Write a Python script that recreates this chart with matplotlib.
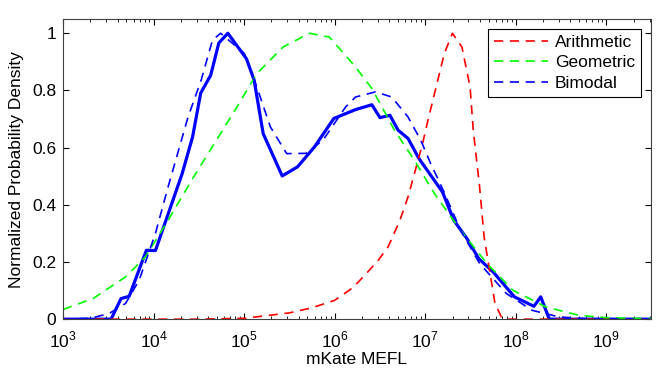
import numpy as np
import matplotlib
matplotlib.use("Agg")
import matplotlib.pyplot as plt
from matplotlib.ticker import FixedLocator, NullFormatter

plt.rcParams['font.family'] = ['Liberation Sans', 'DejaVu Sans']
plt.rcParams['mathtext.fontset'] = 'custom'
plt.rcParams['mathtext.rm'] = 'Liberation Sans'

# --- data (x as log10 of mKate MEFL) ---
meas_logx = [3.0, 3.53, 3.64, 3.73, 3.92, 4.02, 4.315, 4.43, 4.52, 4.63, 4.72, 4.82,
             5.025, 5.11, 5.21, 5.42, 5.59, 5.775, 5.99, 6.23, 6.41, 6.5, 6.61, 6.70,
             6.81, 6.93, 7.19, 7.315, 7.46, 7.59, 7.75, 7.985, 8.20, 8.275, 8.37, 9.5]
meas_y = [0.0, 0.0, 0.072, 0.08, 0.241, 0.24, 0.509, 0.637, 0.791, 0.853, 0.966, 1.0,
          0.911, 0.836, 0.649, 0.501, 0.533, 0.602, 0.702, 0.733, 0.75, 0.705, 0.713, 0.661,
          0.632, 0.562, 0.445, 0.346, 0.282, 0.212, 0.165, 0.078, 0.045, 0.078, 0.0, 0.0]

arith_logx = [3.0, 4.0, 4.5, 5.0, 5.5, 5.75, 6.0, 6.2, 6.35, 6.48, 6.59, 6.72, 6.81, 6.88,
              6.97, 7.03, 7.12, 7.21, 7.30, 7.405, 7.495, 7.53, 7.60, 7.65, 7.71, 7.77,
              7.84, 7.90, 9.5]
arith_y = [0.0, 0.0, 0.0, 0.003, 0.022, 0.04, 0.066, 0.11, 0.16, 0.206, 0.253, 0.346, 0.428,
           0.509, 0.614, 0.696, 0.812, 0.929, 1.0, 0.952, 0.812, 0.661, 0.463, 0.288, 0.171,
           0.055, 0.008, 0.0, 0.0]

geo_logx = [3.0, 3.33, 3.69, 3.91, 4.16, 4.42, 4.67, 4.92, 5.14, 5.43, 5.72, 5.94, 6.23,
            6.41, 6.66, 6.88, 7.10, 7.39, 7.68, 7.97, 8.33, 8.69, 9.0, 9.5]
geo_y = [0.034, 0.072, 0.148, 0.218, 0.346, 0.486, 0.614, 0.742, 0.859, 0.952, 1.0, 0.987,
         0.882, 0.807, 0.661, 0.556, 0.44, 0.311, 0.195, 0.101, 0.043, 0.014, 0.005, 0.002]

bimod_logx = [3.0, 3.3, 3.51, 3.69, 3.84, 4.02, 4.16, 4.38, 4.525, 4.65, 4.74, 5.0, 5.14,
              5.29, 5.47, 5.685, 5.87, 6.12, 6.23, 6.45, 6.63, 6.81, 6.95, 7.06, 7.2,
              7.39, 7.6, 7.895, 8.18, 8.475, 8.8, 9.5]
bimod_y = [0.0, 0.003, 0.02, 0.055, 0.136, 0.30, 0.463, 0.707, 0.836, 0.976, 1.0, 0.93, 0.812,
           0.672, 0.579, 0.58, 0.626, 0.742, 0.777, 0.795, 0.777, 0.707, 0.626, 0.544, 0.45,
           0.311, 0.195, 0.09, 0.031, 0.008, 0.001, 0.0]

xtick_exps = [3, 4, 5, 6, 7, 8, 9]
ytick_vals = [0, 0.2, 0.4, 0.6, 0.8, 1]
ytick_labels = ['0', '0.2', '0.4', '0.6', '0.8', '1']

fig = plt.figure(figsize=(6.64, 3.72), dpi=100)
ax = fig.add_axes([0.095, 0.142, 0.885, 0.807])

fs = 12.5
dash = (0, (5.5, 4))
ax.plot(10 ** np.array(meas_logx), meas_y, color=(0, 0, 1), lw=2.3)
ax.plot(10 ** np.array(arith_logx), arith_y, color=(1, 0, 0), lw=1.2, linestyle=dash, label='Arithmetic')
ax.plot(10 ** np.array(geo_logx), geo_y, color=(0, 1, 0), lw=1.2, linestyle=dash, label='Geometric')
ax.plot(10 ** np.array(bimod_logx), bimod_y, color=(0, 0, 1), lw=1.2, linestyle=dash, label='Bimodal')

ax.set_xscale('log')
ax.set_xlim(1e3, 10 ** 9.49)
ax.set_ylim(0, 1.05)
ax.set_yticks(ytick_vals)
ax.set_yticklabels(ytick_labels)
ax.set_xticks([10.0 ** e for e in xtick_exps])
ax.set_xticklabels([r'$10^{%d}$' % e for e in xtick_exps])
minor = [m * 10.0 ** e for e in xtick_exps for m in range(2, 10) if m * 10.0 ** e < 10 ** 9.49]
ax.xaxis.set_minor_locator(FixedLocator(minor))
ax.xaxis.set_minor_formatter(NullFormatter())
ax.tick_params(which='both', direction='in', top=True, right=True, labelsize=fs, colors='black')
ax.tick_params(which='major', length=4)
ax.tick_params(axis='x', which='major', pad=8)
ax.tick_params(axis='y', which='major', pad=5)
ax.tick_params(which='minor', length=2)
for s in ax.spines.values():
    s.set_color('#404040')
    s.set_linewidth(0.8)

ax.set_xlabel('mKate MEFL', fontsize=fs, labelpad=1)
ax.set_ylabel('Normalized Probability Density', fontsize=fs, labelpad=6)

leg = ax.legend(loc='upper right', fontsize=fs, handlelength=3.1, borderaxespad=0.55,
                fancybox=False, framealpha=1, edgecolor='black', labelspacing=0.32,
                borderpad=0.35, handletextpad=0.4)
leg.get_frame().set_linewidth(0.8)

plt.savefig("out.png", dpi=100)
